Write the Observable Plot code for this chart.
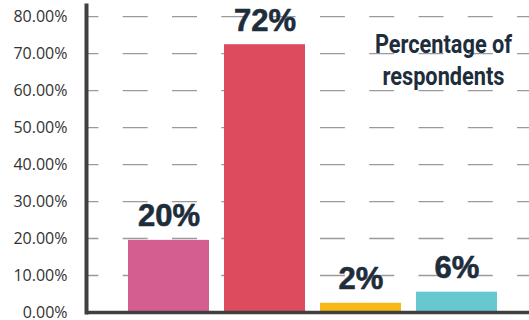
<!DOCTYPE html>
<html>
<head>
<meta charset="utf-8">
<script src="https://cdn.jsdelivr.net/npm/d3@7"></script>
<script src="https://cdn.jsdelivr.net/npm/@observablehq/plot@0.6"></script>
<style>
  html, body { margin: 0; padding: 0; background: #fff; }
  #chart { width: 529px; height: 320px; }
</style>
</head>
<body>
<div id="chart"></div>
<script>
const categories = ["Option 1", "Option 2", "Option 3", "Option 4"];
const values = [19.5, 72.4, 2.5, 5.5];
const valueLabels = ["20%", "72%", "2%", "6%"];
const colors = ["#D45E8E", "#DC4B5E", "#F6B916", "#67C8D0"];
const yTicks = [0, 10, 20, 30, 40, 50, 60, 70, 80];
const title = "Percentage of\nrespondents";

const data = categories.map((c, i) => ({category: c, value: values[i], label: valueLabels[i]}));

const chart = Plot.plot({
  width: 529,
  height: 320,
  marginLeft: 86,
  marginRight: 0,
  marginTop: 5,
  marginBottom: 8,
  style: {background: "#fff", overflow: "visible"},
  x: {domain: categories, paddingInner: 0.159, paddingOuter: 0.38, align: 0.56, axis: null},
  y: {domain: [0, 83], ticks: yTicks, tickFormat: d => d.toFixed(2) + "%", tickSize: 0, tickPadding: 19, label: null},
  color: {domain: categories, range: colors},
  marks: [
    Plot.ruleY(yTicks.filter(d => d > 0), {stroke: "#9a9a9a", strokeWidth: 1.3, strokeDasharray: "25,24.3", strokeDashoffset: 12.6}),
    Plot.barY(data, {x: "category", y: "value", fill: "category"}),
    Plot.text(data, {x: "category", y: "value", text: "label", lineAnchor: "bottom", dy: -14, fontSize: 31, fontWeight: "bold", fontFamily: "'Liberation Sans', Arial, sans-serif", fill: "#1E2D3B", stroke: "#1E2D3B", strokeWidth: 0.6}),
    Plot.text([title], {frameAnchor: "top-right", textAnchor: "middle", lineAnchor: "top", dx: -86, dy: 24, lineHeight: 1.3, fontSize: 25, fontWeight: "bold", fontFamily: "Roboto, sans-serif", fill: "#1E2D3B"}),
    Plot.ruleY([0], {stroke: "#404040", strokeWidth: 3.5}),
    Plot.frame({anchor: "left", stroke: "#404040", strokeWidth: 4})
  ]
});
d3.select(chart).selectAll('g[aria-label="y-axis tick label"] text, g[aria-label="y-axis"] text')
  .style("font-family", "'Open Sans', sans-serif").style("font-size", "16px").style("fill", "#333");
// condense the title (reference uses a condensed face), keeping Plot's own dx/dy offset
d3.select(chart).selectAll('g[aria-label="text"]')
  .filter(function() { return this.textContent.includes("Percentage"); })
  .each(function() {
    const t = (this.getAttribute("transform") || "")
      .replace(/translate\(\s*([-\d.]+)\s*,\s*([-\d.]+)\s*\)/, "translate($1px,$2px)");
    d3.select(this)
      .style("transform-origin", "529px 0px")
      .style("transform", t + " scaleX(0.87)");
  });
document.getElementById("chart").appendChild(chart);
</script>
</body>
</html>
